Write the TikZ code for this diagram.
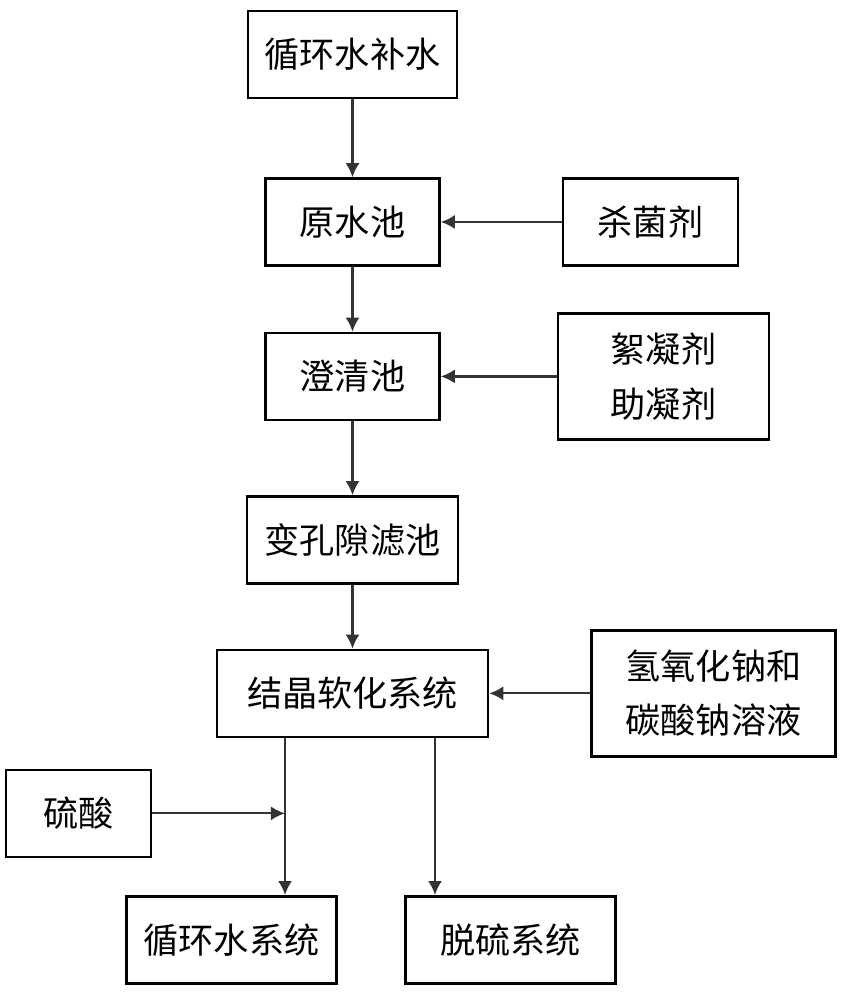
\documentclass[tikz,border=0pt]{standalone}
\usepackage{fontspec}
\usepackage{tikz}
\usetikzlibrary{arrows.meta,positioning,calc}
\newfontfamily\cjk{Noto Sans CJK SC}

\begin{document}
\begin{tikzpicture}[
            box/.style={
                    rectangle,
                    draw=black,
                    line width=1.4pt,
                    minimum height=1.74cm,
                    inner sep=2pt,
                    align=center,
                    font=\cjk\fontsize{20}{31}\selectfont
                },
            tallbox/.style={
                    box,
                    minimum height=2.52cm
                },
            arrow/.style={
                    ->,
                    >={Latex[length=8pt,width=8pt]},
                    line width=1.3pt,
                    draw=black!80
                }
        ]

        \useasboundingbox (0,0) rectangle (16.88,-20);

        % Main line
        \node[box, minimum width=4.18cm] (feed) at (7.05,-1.09) {循环水补水};
        \node[box, minimum width=3.48cm, below=1.56cm of feed] (rawpool) {原水池};
        \node[box, minimum width=3.48cm, below=1.3cm of rawpool] (clarifier) {澄清池};
        \node[box, minimum width=4.22cm, below=1.48cm of clarifier] (filter) {变孔隙滤池};
        \node[box, minimum width=5.42cm, below=1.28cm of filter] (soften) {结晶软化系统};

        % Dosing
        \node[box, minimum width=3.5cm, right=2.42cm of rawpool] (biocide) {杀菌剂};
        \node[tallbox, minimum width=4.22cm, right=2.32cm of clarifier] (coag) {絮凝剂\\助凝剂};
        \node[tallbox, minimum width=4.88cm, right=2.02cm of soften] (alkali) {氢氧化钠和\\碳酸钠溶液};

        % Outlets
        \node[box, minimum width=4.2cm, below left=3.14cm and -2.44cm of soften] (coolsys) {循环水系统};
        \node[box, minimum width=4.2cm, below right=3.14cm and -1.7cm of soften] (desulf) {脱硫系统};
        \node[box, minimum width=2.9cm, above left=0.74cm and -0.54cm of coolsys] (acid) {硫酸};

        \coordinate (outA) at ([xshift=-1.35cm]soften.south);
        \coordinate (outB) at ([xshift=1.65cm]soften.south);

        % Relations
        \draw[arrow] (feed) -- (rawpool);
        \draw[arrow] (rawpool) -- (clarifier);
        \draw[arrow] (clarifier) -- (filter);
        \draw[arrow] (filter) -- (soften);

        \draw[arrow] (biocide) -- (rawpool);
        \draw[arrow] (coag) -- (clarifier);
        \draw[arrow] (alkali) -- (soften);

        \draw[arrow] (outA) -- (outA |- coolsys.north);
        \draw[arrow] (outB) -- (outB |- desulf.north);
        \draw[arrow] (acid) -- (acid -| outA);

    \end{tikzpicture}
\end{document}
